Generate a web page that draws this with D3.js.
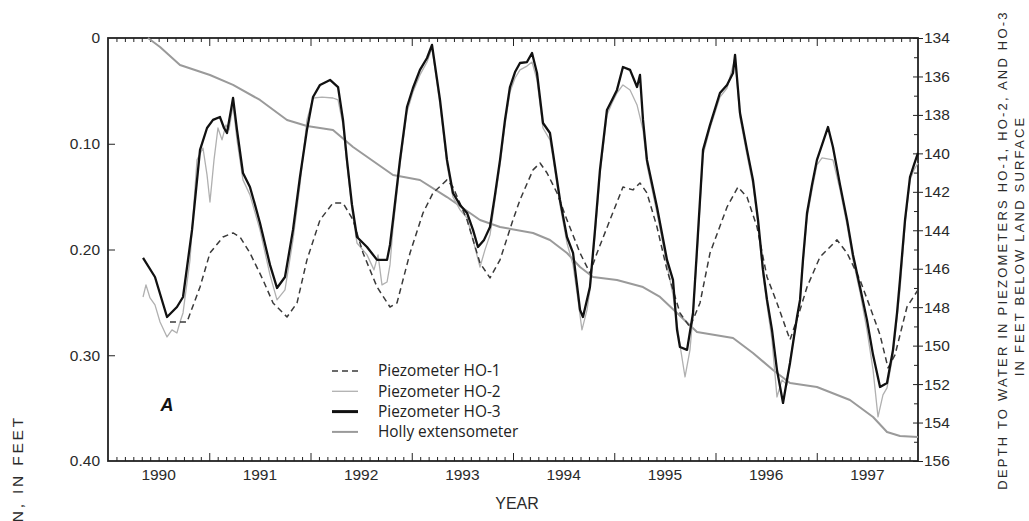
<!DOCTYPE html>
<html><head><meta charset="utf-8">
<script src="https://cdn.jsdelivr.net/npm/d3@7"></script>
<style>
html,body{margin:0;padding:0;background:#fff;}
svg{display:block;}
</style></head><body>
<svg id="chart" width="1029" height="521"></svg>
<script>
// ---------------- DATA ----------------
const yearLabels = [1990, 1991, 1992, 1993, 1994, 1995, 1996, 1997];
const leftTicks = [0, 0.10, 0.20, 0.30, 0.40];
const leftTickLabels = ["0", "0.10", "0.20", "0.30", "0.40"];
const rightTicks = [134, 136, 138, 140, 142, 144, 146, 148, 150, 152, 154, 156];
const seriesNames = ["Piezometer HO-1", "Piezometer HO-2", "Piezometer HO-3", "Holly extensometer"];

// [decimal year, depth to water (ft below land surface)]
const ho1 = [
 [1990.612,148.77],[1990.780,148.77],[1990.909,146.95],[1991.007,145.18],[1991.136,144.35],[1991.235,144.14],
 [1991.304,144.35],[1991.402,145.18],[1991.531,146.58],[1991.630,147.78],[1991.768,148.51],[1991.867,147.78],
 [1991.965,145.54],[1992.094,143.46],[1992.222,142.58],[1992.321,142.58],[1992.420,143.46],[1992.519,145.18],
 [1992.657,146.95],[1992.785,147.99],[1992.854,147.78],[1992.983,145.18],[1993.111,143.10],[1993.210,142.06],
 [1993.348,141.38],[1993.407,141.75],[1993.546,143.46],[1993.674,145.70],[1993.773,146.48],[1993.872,145.54],
 [1994.000,143.46],[1994.069,142.42],[1994.198,140.86],[1994.267,140.50],[1994.336,141.02],[1994.435,142.06],
 [1994.533,143.46],[1994.662,145.18],[1994.760,146.22],[1994.830,145.18],[1994.958,143.46],[1995.086,141.75],
 [1995.185,141.90],[1995.254,141.54],[1995.323,142.06],[1995.422,143.83],[1995.521,146.06],[1995.649,148.30],
 [1995.748,149.03],[1995.847,147.78],[1995.946,145.18],[1996.114,142.79],[1996.222,141.75],[1996.311,142.27],
 [1996.410,143.83],[1996.509,146.43],[1996.607,147.78],[1996.736,149.70],[1996.835,148.14],[1996.904,146.95],
 [1997.032,145.39],[1997.200,144.50],[1997.299,145.18],[1997.427,146.58],[1997.526,147.99],[1997.625,149.44],
 [1997.704,151.16],[1997.773,150.48],[1997.891,147.99],[1998.000,147.10]
];
const ho2 = [
 [1990.346,147.47],[1990.375,146.84],[1990.415,147.52],[1990.464,147.88],[1990.514,148.77],[1990.583,149.55],
 [1990.632,149.18],[1990.681,149.34],[1990.711,148.77],[1990.741,148.30],[1990.810,145.54],[1990.879,140.34],
 [1990.938,139.72],[1990.978,141.12],[1991.007,142.53],[1991.047,140.34],[1991.086,138.68],[1991.126,139.30],
 [1991.165,138.52],[1991.195,138.78],[1991.235,137.48],[1991.274,139.30],[1991.333,141.38],[1991.402,142.16],
 [1991.501,143.98],[1991.600,146.32],[1991.669,147.62],[1991.748,147.10],[1991.827,144.50],[1991.896,141.64],
 [1991.965,138.26],[1992.025,137.12],[1992.114,137.07],[1992.222,137.12],[1992.272,137.22],[1992.321,138.52],
 [1992.360,140.60],[1992.410,142.94],[1992.459,144.66],[1992.558,145.28],[1992.627,146.06],[1992.667,145.28],
 [1992.706,146.84],[1992.756,146.69],[1992.785,145.80],[1992.815,143.88],[1992.884,140.60],[1992.953,137.85],
 [1993.012,136.81],[1993.081,135.92],[1993.151,135.25],[1993.200,134.52],[1993.279,137.48],[1993.348,140.60],
 [1993.407,142.27],[1993.477,142.94],[1993.546,143.36],[1993.605,144.50],[1993.674,145.91],[1993.723,145.02],
 [1993.773,144.24],[1993.822,142.42],[1993.872,140.60],[1993.921,138.52],[1993.970,136.81],[1994.020,136.08],
 [1994.069,135.66],[1994.138,135.46],[1994.188,135.25],[1994.237,136.18],[1994.296,138.68],[1994.365,139.30],
 [1994.395,140.24],[1994.464,142.68],[1994.533,144.66],[1994.593,145.80],[1994.642,147.62],[1994.681,149.18],
 [1994.731,148.14],[1994.760,147.10],[1994.810,144.24],[1994.859,141.12],[1994.928,138.00],[1994.978,137.38],
 [1995.027,136.86],[1995.086,136.44],[1995.156,136.70],[1995.225,137.48],[1995.284,138.78],[1995.323,140.60],
 [1995.422,143.10],[1995.521,145.80],[1995.580,147.36],[1995.649,149.96],[1995.699,151.63],[1995.748,150.22],
 [1995.778,148.40],[1995.817,145.28],[1995.877,140.08],[1995.946,138.68],[1996.044,137.07],[1996.114,136.60],
 [1996.193,135.04],[1996.242,138.16],[1996.311,140.08],[1996.370,141.64],[1996.420,143.72],[1996.469,146.32],
 [1996.509,147.88],[1996.558,149.70],[1996.607,152.67],[1996.657,151.78],[1996.706,152.04],[1996.736,150.74],
 [1996.805,148.66],[1996.835,147.62],[1996.864,145.65],[1996.904,143.36],[1996.953,141.90],[1997.002,140.60],
 [1997.052,140.24],[1997.160,140.34],[1997.230,141.90],[1997.299,143.72],[1997.358,145.54],[1997.427,147.21],
 [1997.496,149.18],[1997.556,151.26],[1997.605,153.71],[1997.654,152.56],[1997.694,152.20],[1997.753,150.48],
 [1997.793,148.56],[1997.822,147.10],[1997.872,143.72],[1997.921,141.38],[1997.960,140.86],[1998.000,140.50]
];
const ho3 = [
 [1990.346,145.44],[1990.464,146.43],[1990.583,148.51],[1990.632,148.25],[1990.681,147.99],[1990.741,147.47],
 [1990.830,143.98],[1990.909,139.82],[1990.978,138.68],[1991.037,138.26],[1991.106,138.11],[1991.146,138.68],
 [1991.175,138.94],[1991.215,137.74],[1991.235,137.12],[1991.274,138.78],[1991.333,141.02],[1991.402,141.75],
 [1991.452,142.68],[1991.501,143.62],[1991.600,145.80],[1991.669,147.00],[1991.748,146.43],[1991.827,143.98],
 [1991.896,141.23],[1991.965,138.78],[1992.025,137.07],[1992.094,136.44],[1992.193,136.18],[1992.272,136.55],
 [1992.321,138.26],[1992.360,140.34],[1992.410,142.68],[1992.459,144.35],[1992.558,144.87],[1992.657,145.54],
 [1992.756,145.54],[1992.785,144.76],[1992.815,143.46],[1992.884,140.34],[1992.953,137.59],[1993.012,136.60],
 [1993.081,135.66],[1993.151,135.04],[1993.200,134.36],[1993.279,137.22],[1993.348,140.34],[1993.407,142.06],
 [1993.477,142.68],[1993.546,143.10],[1993.605,143.98],[1993.654,144.87],[1993.714,144.50],[1993.773,143.83],
 [1993.822,142.16],[1993.872,140.34],[1993.921,138.26],[1993.970,136.55],[1994.020,135.77],[1994.069,135.30],
 [1994.138,135.25],[1994.188,134.78],[1994.237,135.82],[1994.296,138.42],[1994.365,138.94],[1994.395,139.98],
 [1994.464,142.42],[1994.533,144.35],[1994.593,145.18],[1994.632,146.84],[1994.662,148.14],[1994.691,148.51],
 [1994.760,146.95],[1994.810,143.98],[1994.859,140.86],[1994.928,137.74],[1994.978,137.22],[1995.027,136.70],
 [1995.086,135.51],[1995.156,135.66],[1995.225,136.55],[1995.254,135.92],[1995.284,138.26],[1995.323,140.34],
 [1995.422,142.79],[1995.521,145.54],[1995.580,146.58],[1995.620,149.18],[1995.649,150.07],[1995.719,150.22],
 [1995.778,148.30],[1995.817,145.02],[1995.877,139.82],[1995.946,138.52],[1996.044,136.86],[1996.114,136.44],
 [1996.173,135.82],[1996.193,134.88],[1996.242,137.90],[1996.311,139.82],[1996.370,141.38],[1996.420,143.46],
 [1996.469,146.06],[1996.509,147.62],[1996.558,149.18],[1996.607,151.26],[1996.667,152.98],[1996.706,151.78],
 [1996.736,150.90],[1996.805,148.51],[1996.835,147.62],[1996.864,145.54],[1996.904,143.10],[1996.953,141.64],
 [1997.002,140.34],[1997.052,139.56],[1997.111,138.63],[1997.160,139.67],[1997.230,141.64],[1997.299,143.46],
 [1997.358,145.28],[1997.427,146.95],[1997.496,148.66],[1997.556,150.48],[1997.625,152.15],[1997.694,151.94],
 [1997.753,150.22],[1997.793,148.30],[1997.822,146.58],[1997.872,143.46],[1997.921,141.23],[1997.960,140.60],
 [1998.000,139.98]
];
// [decimal year, compaction (ft)]
const holly = [
 [1990.395,0.0000],[1990.514,0.0085],[1990.711,0.0255],[1991.007,0.0350],[1991.235,0.0444],[1991.501,0.0586],
 [1991.768,0.0775],[1991.965,0.0832],[1992.222,0.0870],[1992.420,0.1031],[1992.815,0.1296],[1993.081,0.1343],
 [1993.348,0.1504],[1993.674,0.1721],[1993.872,0.1787],[1994.198,0.1844],[1994.365,0.1910],[1994.533,0.2033],
 [1994.662,0.2165],[1994.790,0.2260],[1995.027,0.2288],[1995.284,0.2355],[1995.452,0.2449],[1995.620,0.2600],
 [1995.817,0.2780],[1996.173,0.2837],[1996.370,0.2979],[1996.568,0.3139],[1996.736,0.3262],[1997.002,0.3300],
 [1997.328,0.3423],[1997.556,0.3584],[1997.694,0.3726],[1997.822,0.3764],[1998.000,0.3773]
];

// ---------------- CHART ----------------
const svg = d3.select("#chart");
const L = 108, R = 918, T = 38, B = 461;
const x = d3.scaleLinear().domain([1990, 1998]).range([L, R]);
const yL = d3.scaleLinear().domain([0, 0.4]).range([T, B]);
const yR = d3.scaleLinear().domain([134, 156]).range([T, B]);

const months = d3.range(1990, 1998.001, 1 / 12).filter(m => Math.abs(m - Math.round(m)) > 1e-6);
const years = d3.range(1991, 1998);
const axisColor = "#222";
const tickFont = "Liberation Sans, Arial, sans-serif";
const tickSize = "15.5px";

function styleAxis(g) {
  g.select(".domain").remove();
  g.selectAll("line").attr("stroke", axisColor).attr("stroke-width", 1);
  g.selectAll("text").attr("fill", "#2a2a2a").style("font-family", tickFont).style("font-size", tickSize);
}

// bottom minor & major ticks (inward)
svg.append("g").attr("transform", `translate(0,${B})`)
  .call(d3.axisBottom(x).tickValues(months).tickSize(-4).tickFormat("")).call(styleAxis);
svg.append("g").attr("transform", `translate(0,${B})`)
  .call(d3.axisBottom(x).tickValues(years).tickSize(-8).tickFormat("")).call(styleAxis);
// top
svg.append("g").attr("transform", `translate(0,${T})`)
  .call(d3.axisTop(x).tickValues(months).tickSize(-4).tickFormat("")).call(styleAxis);
svg.append("g").attr("transform", `translate(0,${T})`)
  .call(d3.axisTop(x).tickValues(years).tickSize(-8).tickFormat("")).call(styleAxis);
// year labels centered in year
svg.append("g").selectAll("text").data(yearLabels).join("text")
  .attr("x", d => x(d + 0.5)).attr("y", 475).attr("dy", "0.35em")
  .attr("text-anchor", "middle").attr("fill", "#2a2a2a")
  .style("font-family", tickFont).style("font-size", tickSize).text(d => d);

// left axis
const gl = svg.append("g").attr("transform", `translate(${L},0)`)
  .call(d3.axisLeft(yL).tickValues(leftTicks).tickSize(-7).tickPadding(8)
    .tickFormat((d, i) => leftTickLabels[i])).call(styleAxis);
gl.selectAll(".tick").filter(d => d === 0 || d === 0.4).select("line").remove();

// right axis
svg.append("g").attr("transform", `translate(${R},0)`)
  .call(d3.axisRight(yR).tickValues(d3.range(135, 156, 2)).tickSize(-4).tickFormat("")).call(styleAxis);
const gr2 = svg.append("g").attr("transform", `translate(${R},0)`)
  .call(d3.axisRight(yR).tickValues(rightTicks).tickSize(5).tickPadding(1).tickFormat(d3.format("d"))).call(styleAxis);
gr2.selectAll(".tick line").attr("x1", -5);

// frame
svg.append("rect").attr("x", L).attr("y", T).attr("width", R - L).attr("height", B - T)
  .attr("fill", "none").attr("stroke", "#222").attr("stroke-width", 1.8);

// lines
const lineR = d3.line().x(d => x(d[0])).y(d => yR(d[1]));
const lineL = d3.line().x(d => x(d[0])).y(d => yL(d[1]));
const styles = [
  {data: ho1, gen: lineR, stroke: "#3a3a3a", width: 1.5, dash: "6,4"},
  {data: ho2, gen: lineR, stroke: "#b0b0b0", width: 1.3, dash: null},
  {data: ho3, gen: lineR, stroke: "#111", width: 2.3, dash: null},
  {data: holly, gen: lineL, stroke: "#9a9a9a", width: 2, dash: null}
];
const drawOrder = [3, 1, 0, 2];
drawOrder.forEach(i => {
  const s = styles[i];
  svg.append("path").datum(s.data).attr("d", s.gen)
    .attr("fill", "none").attr("stroke", s.stroke).attr("stroke-width", s.width)
    .attr("stroke-linejoin", "round").attr("stroke-dasharray", s.dash);
});

// legend
const legendFont = "Open Sans, Noto Sans, sans-serif";
const lg = svg.append("g");
seriesNames.forEach((name, i) => {
  const yy = 371 + i * 20.3;
  const s = styles[i];
  lg.append("line").attr("x1", 332).attr("x2", 358).attr("y1", yy).attr("y2", yy)
    .attr("stroke", s.stroke).attr("stroke-width", s.width > 2.2 ? 3 : s.width)
    .attr("stroke-dasharray", s.dash ? "6,4" : null);
  lg.append("text").attr("x", 378).attr("y", yy).attr("dy", "0.35em")
    .attr("fill", "#222").style("font-family", legendFont).style("font-size", "15.4px").text(name);
});

// panel letter
svg.append("text").attr("x", 167).attr("y", 405).attr("dy", "0.35em").attr("text-anchor", "middle")
  .style("font-family", "Liberation Sans, Arial, sans-serif").style("font-size", "18px")
  .style("font-weight", "bold").style("font-style", "italic").attr("fill", "#111").text("A");

// axis titles
svg.append("text").attr("x", 517).attr("y", 503).attr("dy", "0.35em").attr("text-anchor", "middle").attr("fill", "#2a2a2a")
  .style("font-family", tickFont).style("font-size", "16px").text("YEAR");

svg.append("text").attr("transform", "translate(18,415) rotate(-90)").attr("text-anchor", "end")
  .attr("dy", "0.35em").attr("fill", "#2a2a2a")
  .style("font-family", tickFont).style("font-size", "15.5px").style("letter-spacing", "2.8px")
  .text("COMPACTION, IN FEET");

svg.append("text").attr("transform", "translate(1002,250) rotate(-90)").attr("text-anchor", "middle")
  .attr("dy", "0.35em").attr("fill", "#2a2a2a")
  .style("font-family", tickFont).style("font-size", "13px").style("letter-spacing", "2.2px")
  .text("DEPTH TO WATER IN PIEZOMETERS HO-1, HO-2, AND HO-3");
svg.append("text").attr("transform", "translate(1019,246) rotate(-90)").attr("text-anchor", "middle")
  .attr("dy", "0.35em").attr("fill", "#2a2a2a")
  .style("font-family", tickFont).style("font-size", "13px").style("letter-spacing", "2.2px")
  .text("IN FEET BELOW LAND SURFACE");
</script>
</body></html>
